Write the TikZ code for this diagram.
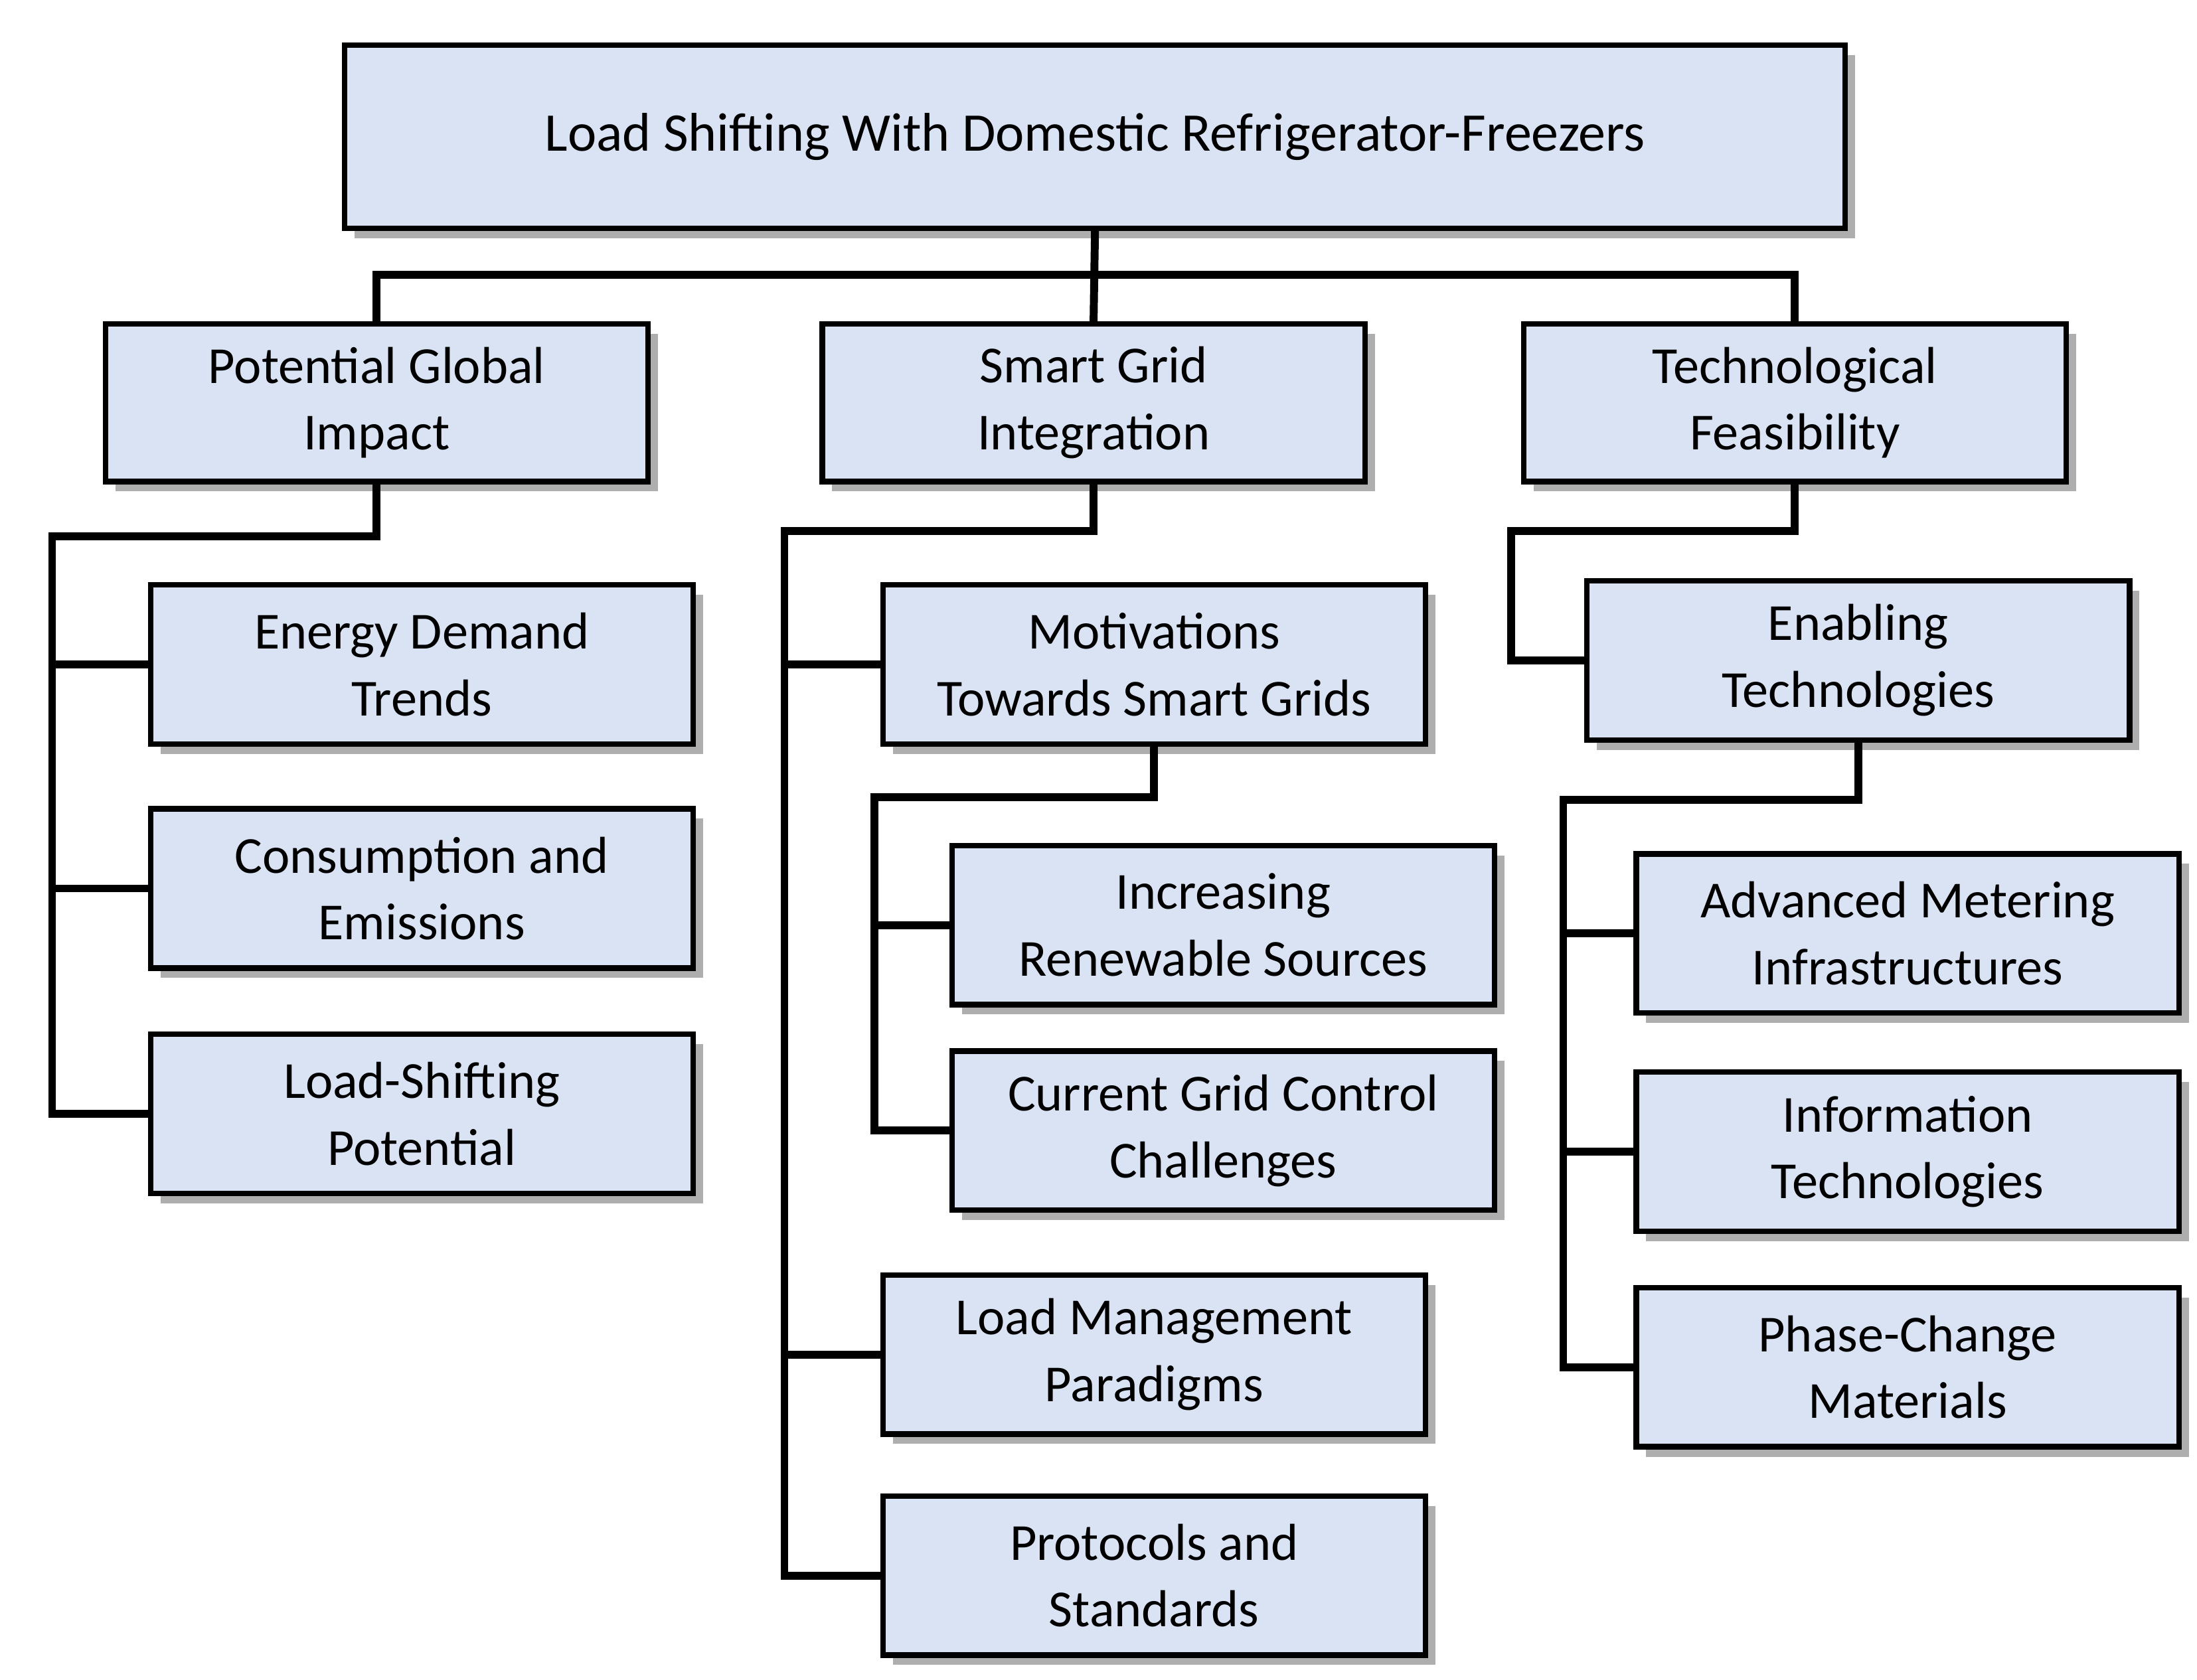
\documentclass[tikz,border=0pt]{standalone}
\usepackage{fontspec}
\setmainfont{Carlito}
\usetikzlibrary{shadows}
\definecolor{boxfill}{HTML}{DAE3F3}
\begin{document}
\begin{tikzpicture}[x=0.01cm,y=-0.01cm,
 box/.style={draw=black,line width=1.1pt,fill=boxfill,align=center,inner sep=0pt,
   font=\fontsize{10.5pt}{13.5pt}\selectfont,
   drop shadow={shadow xshift=2pt,shadow yshift=-2pt,opacity=0.45,fill=black!70}},
 l1/.style={box,minimum width=3.85cm,minimum height=1.12cm},
 ch/.style={box,minimum width=3.85cm,minimum height=1.13cm},
 conn/.style={line width=1.6pt,line cap=rect}]
\useasboundingbox (0,0) rectangle (1560,1193);
\node[box,minimum width=10.65cm,minimum height=1.3cm,font=\fontsize{11pt}{14pt}\selectfont] (T) at (777.5,97) {Load Shifting With Domestic Refrigerator-Freezers};
\node[l1] (A) at (267.5,286) {Potential Global\\Impact};
\node[l1] (B) at (776.5,286) {Smart Grid\\Integration};
\node[l1] (C) at (1274.5,286) {Technological\\Feasibility};
\node[ch] (A1) at (299.5,472) {Energy Demand\\Trends};
\node[ch] (A2) at (299.5,631) {Consumption and\\Emissions};
\node[ch] (A3) at (299.5,791) {Load-Shifting\\Potential};
\node[ch] (B1) at (819.5,472) {Motivations\\Towards Smart Grids};
\node[ch] (B11) at (868.5,657) {Increasing\\Renewable Sources};
\node[ch] (B12) at (868.5,803) {Current Grid Control\\Challenges};
\node[ch] (B2) at (819.5,962) {Load Management\\Paradigms};
\node[ch] (B3) at (819.5,1119) {Protocols and\\Standards};
\node[ch] (C1) at (1319.5,469) {Enabling\\Technologies};
\node[ch] (C11) at (1354.5,663) {Advanced Metering\\Infrastructures};
\node[ch] (C12) at (1354.5,818) {Information\\Technologies};
\node[ch] (C13) at (1354.5,971) {Phase-Change\\Materials};
\coordinate (bus) at (776,195);
\coordinate (a) at (37,381);
\coordinate (b) at (557,377);
\coordinate (b1) at (621,566);
\coordinate (c) at (1073,377);
\coordinate (c1) at (1110,568);
\begin{scope}[on background layer/.style={}]
\draw[conn] (T.south) -- (B.north);
\draw[conn] (A.north) |- (bus) -| (C.north);
\draw[conn] (A.south) |- (a) |- (A3.west);
\draw[conn] (a |- A1.west) -- (A1.west);
\draw[conn] (a |- A2.west) -- (A2.west);
\draw[conn] (B.south) |- (b) |- (B3.west);
\draw[conn] (b |- B1.west) -- (B1.west);
\draw[conn] (b |- B2.west) -- (B2.west);
\draw[conn] (B1.south) |- (b1) |- (B12.west);
\draw[conn] (b1 |- B11.west) -- (B11.west);
\draw[conn] (C.south) |- (c) |- (C1.west);
\draw[conn] (C1.south) |- (c1) |- (C13.west);
\draw[conn] (c1 |- C11.west) -- (C11.west);
\draw[conn] (c1 |- C12.west) -- (C12.west);
\end{scope}
\end{tikzpicture}
\end{document}
